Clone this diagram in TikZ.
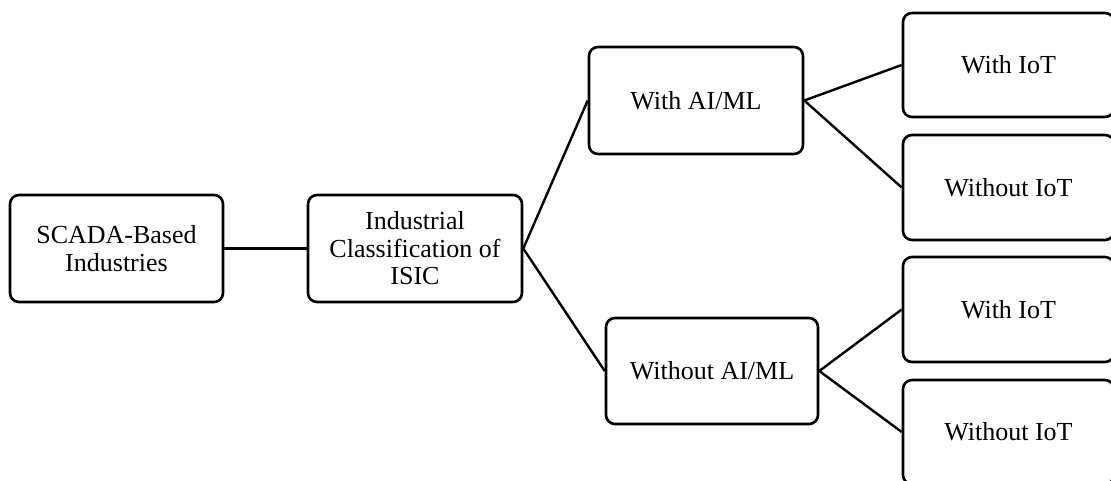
\documentclass[tikz,border=0pt]{standalone}
\usepackage{fontspec}
\setmainfont{Liberation Serif}
\begin{document}
\begin{tikzpicture}[x=1pt,y=-1pt,
  box/.style={draw=black, line width=2.6pt, rounded corners=9pt, fill=white,
    align=center, inner sep=2pt,
    font=\fontsize{26}{27.5}\selectfont},
  link/.style={draw=black, line width=2.4pt}]
\useasboundingbox (0,0) rectangle (1111,481);
\clip (0,0) rectangle (1111,481);
\node[box, minimum width=213pt, minimum height=107pt] (scada) at (116.5,248.5) {SCADA-Based\\Industries};
\node[box, minimum width=214pt, minimum height=107pt] (isic) at (415,248.5) {Industrial\\Classification of\\ISIC};
\node[box, minimum width=214pt, minimum height=107pt] (ai) at (696,100.5) {With AI/ML};
\node[box, minimum width=212pt, minimum height=106pt] (noai) at (712,371) {Without AI/ML};
\node[box, minimum width=211pt, minimum height=104pt] (iot1) at (1008.5,65) {With IoT};
\node[box, minimum width=211pt, minimum height=105pt] (niot1) at (1008.5,187.5) {Without IoT};
\node[box, minimum width=211pt, minimum height=105pt] (iot2) at (1008.5,309.5) {With IoT};
\node[box, minimum width=211pt, minimum height=104pt] (niot2) at (1008.5,432) {Without IoT};
\draw[link] (scada.east) -- (isic.west);
\draw[link] (isic.east) -- (ai.west);
\draw[link] (isic.east) -- (noai.west);
\draw[link] (ai.east) -- (iot1.west);
\draw[link] (ai.east) -- (niot1.west);
\draw[link] (noai.east) -- (iot2.west);
\draw[link] (noai.east) -- (niot2.west);
\end{tikzpicture}
\end{document}
